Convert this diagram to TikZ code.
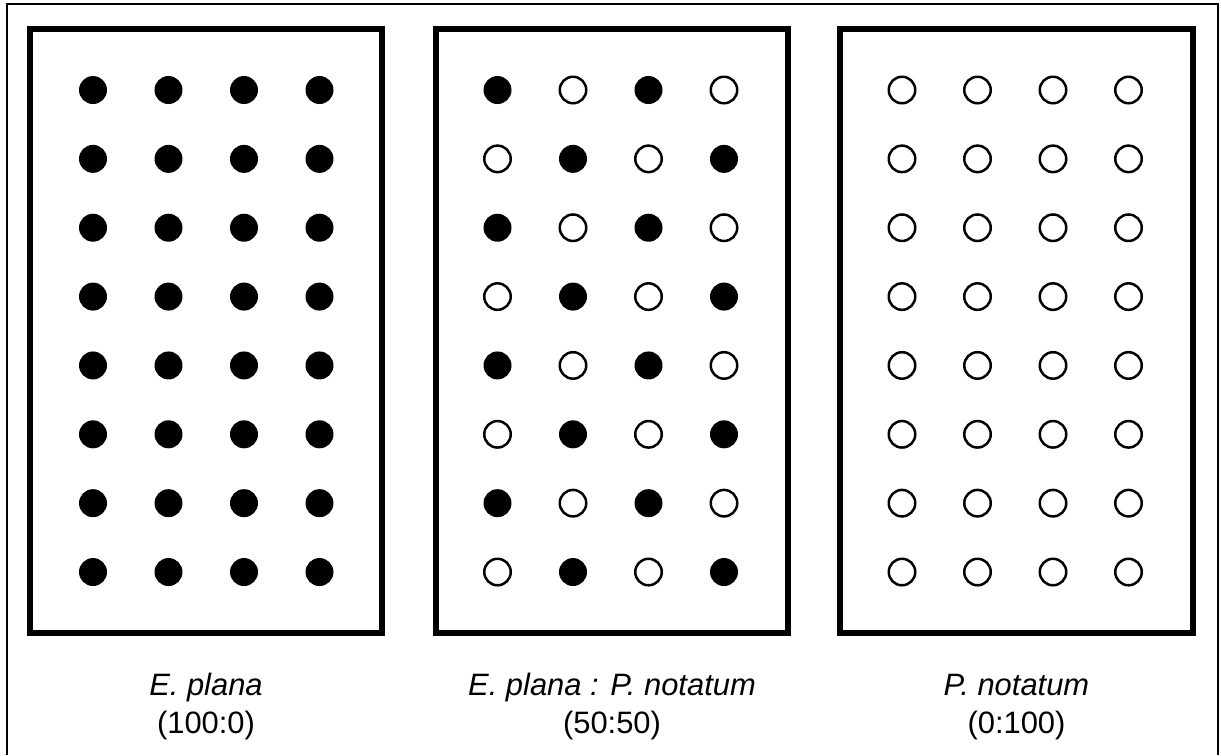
\documentclass[tikz,border=0pt]{standalone}
\usepackage{fontspec}
\setmainfont{Liberation Sans}
\usepackage{tikz}

\begin{document}
\begin{tikzpicture}[x=0.02cm,y=-0.02cm,
    plot/.style={draw,line width=0.12cm,minimum width=7.06cm,minimum height=12.08cm,inner sep=0pt},
    full/.style={circle,fill=black,minimum size=0.56cm,inner sep=0pt},
    empty/.style={circle,draw=black,line width=0.05cm,minimum size=0.53cm,inner sep=0pt},
    caption/.style={anchor=base,inner sep=0pt,font=\fontsize{17.6}{21}\selectfont}]
        \useasboundingbox (0,0) rectangle (1221,755);
        % frame, open at the bottom
        \draw[line width=0.045cm] (7,755) -- (7,4) -- (1218,4) -- (1218,755);
        % the three plots
        \node[plot] (plana) at (206,331) {};
        \node[plot] (mixed) at (612,331) {};
        \node[plot] (notatum) at (1016.5,331) {};
        \foreach \c in {0,...,3}
          \foreach \r in {0,...,7} {
            \node[full] (pl-\c-\r) at ({93+75.5*\c},{90+68.86*\r}) {};
            \pgfmathtruncatemacro\k{\c+\r}
            \ifodd\k \def\kind{empty}\else \def\kind{full}\fi
            \node[\kind] (mx-\c-\r) at ({497.5+75.5*\c},{90+68.86*\r}) {};
            \node[empty] (no-\c-\r) at ({902+75.5*\c},{90+68.86*\r}) {};
          }
        \node[caption] (plana-name) at (206,695) {\textit{E. plana}};
        \node[caption] (plana-ratio) at (206,733) {(100:0)};
        \node[caption] (mixed-name) at (612,695) {\textit{E. plana : P. notatum}};
        \node[caption] (mixed-ratio) at (612,733) {(50:50)};
        \node[caption] (notatum-name) at (1016.5,695) {\textit{P. notatum}};
        \node[caption] (notatum-ratio) at (1016.5,733) {(0:100)};
      \end{tikzpicture}
\end{document}
